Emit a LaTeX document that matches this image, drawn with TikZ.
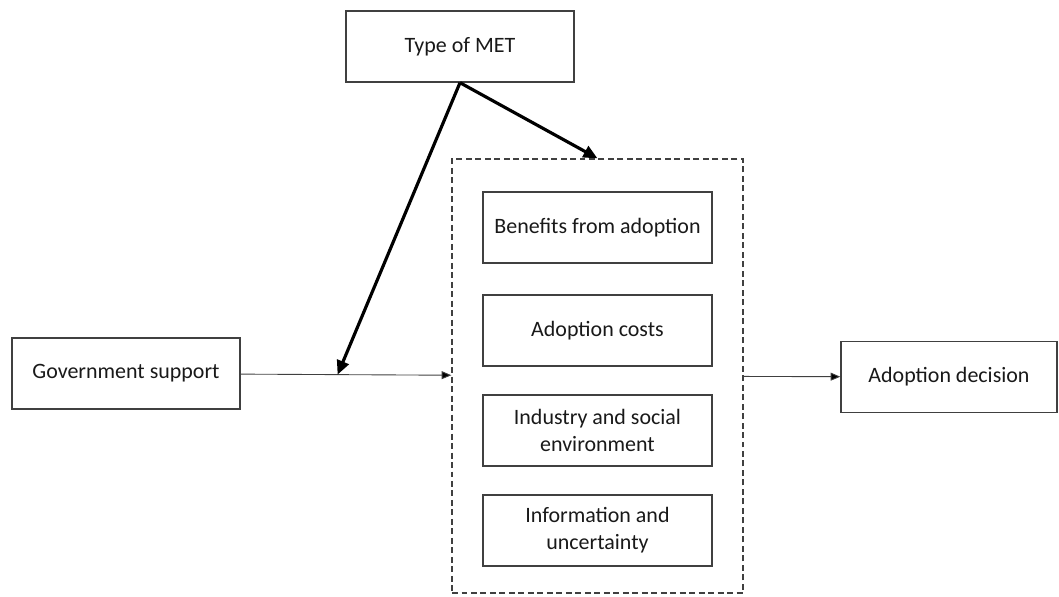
\documentclass[tikz,border=0pt]{standalone}
\usepackage{fontspec}
\setmainfont{Carlito}
\usetikzlibrary{arrows.meta,calc}

\begin{document}
\begin{tikzpicture}[x=0.02cm,y=-0.02cm,
    factor/.style={draw=black!75,line width=0.8pt,minimum width=4.58cm,minimum height=1.42cm,align=center,text=black!90},
    thin/.style={draw=black!75,line width=0.5pt,-{Triangle[length=5.5pt,width=4.5pt,fill=black]}},
    thick/.style={line width=1.8pt,-{Triangle[length=8pt,width=7pt]}}]

    \useasboundingbox (0,0) rectangle (1059,596);

    \fontsize{12.5}{15.5}\selectfont

    \node[factor,minimum width=4.56cm] (met) at (460,46.5) {Type of MET};

    \node[draw=black!75,dash pattern=on 3.4pt off 2pt,line width=0.8pt,minimum width=5.82cm,minimum height=8.68cm] (frame) at (597.5,376) {};

    \node[factor] (benefits) at (597.5,227.5) {Benefits from adoption};
    \node[factor] (costs) at (597.5,330.5) {Adoption costs};
    \node[factor] (industry) at (597.5,430.5) {Industry and social\\environment};
    \node[factor] (info) at (597.5,530.5) {Information and\\uncertainty};

    \node[factor,minimum width=4.56cm] (gov) at (126,373.5) {Government support};
    \node[factor,minimum width=4.32cm] (decision) at (949,377) {Adoption decision};

    \draw[thin] (gov) -- (frame);
    \draw[thin] (frame) -- (decision);

    \coordinate (onlink) at ($(gov.east)!0.46!(frame.west)$);

    \draw[thick] (met.south) -- (frame.north);
    \draw[thick] (met.south) -- (onlink);

\end{tikzpicture}
\end{document}
